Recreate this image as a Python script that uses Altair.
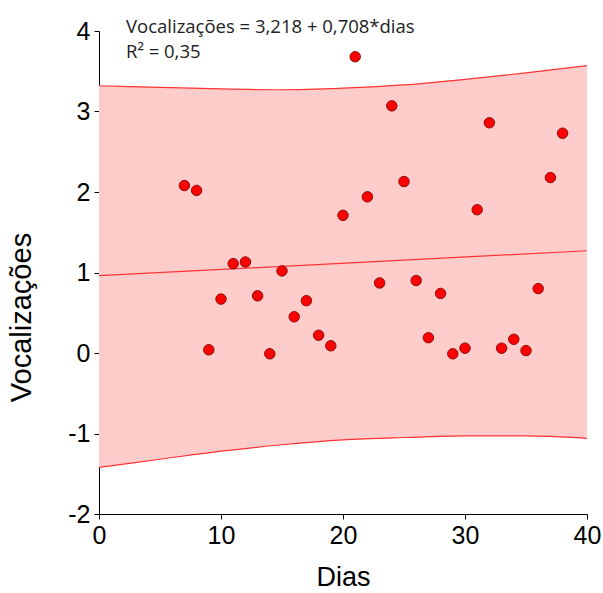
import altair as alt
import pandas as pd

dias = [7, 8, 9, 10, 11, 12, 13, 14, 15, 16, 17, 18, 19, 20, 21, 22, 23, 24, 25, 26,
        27, 28, 29, 30, 31, 32, 33, 34, 35, 36, 37, 38]
vocal = [2.08, 2.02, 0.04, 0.67, 1.11, 1.13, 0.71, -0.01, 1.02, 0.45, 0.65, 0.22, 0.09, 1.71,
         3.68, 1.94, 0.87, 3.07, 2.13, 0.90, 0.19, 0.74, -0.01, 0.06, 1.78, 2.86, 0.06, 0.17,
         0.03, 0.80, 2.18, 2.73]

band_x = [0, 5, 10, 15, 20, 25, 30, 35, 40]
band_upper = [3.32, 3.30, 3.28, 3.27, 3.29, 3.33, 3.40, 3.48, 3.57]
band_lower = [-1.42, -1.32, -1.22, -1.14, -1.08, -1.05, -1.03, -1.03, -1.06]
fit_x = [0, 40]
fit_y = [0.96, 1.27]

eq_text = "Vocalizações = 3,218 + 0,708*dias"
r2_text = "R\u00b2 = 0,35"

pts = pd.DataFrame({"Dias": dias, "Vocalizações": vocal})
band = pd.DataFrame({"Dias": band_x, "up": band_upper, "lo": band_lower})
fit = pd.DataFrame({"Dias": fit_x, "Vocalizações": fit_y})

xs = alt.Scale(domain=[0, 40], nice=False, zero=False)
ys = alt.Scale(domain=[-2, 4], nice=False, zero=False)
xax = alt.Axis(values=[0, 10, 20, 30, 40], title="Dias", grid=False, labelFlush=False,
               labelExpr="'' + datum.value")
yax = alt.Axis(values=[-2, -1, 0, 1, 2, 3, 4], title="Vocalizações", grid=False,
               labelExpr="'' + datum.value", titleY=286, titleFontSize=29, titlePadding=31)

area = alt.Chart(band).mark_area(color="#ffcccc", opacity=1).encode(
    x=alt.X("Dias:Q", scale=xs, axis=xax),
    y=alt.Y("up:Q", scale=ys, axis=yax),
    y2="lo:Q",
)
up_line = alt.Chart(band).mark_line(color="#ff3333", strokeWidth=1.2, interpolate="monotone").encode(
    x=alt.X("Dias:Q", scale=xs), y=alt.Y("up:Q", scale=ys)
)
lo_line = alt.Chart(band).mark_line(color="#ff3333", strokeWidth=1.2, interpolate="monotone").encode(
    x=alt.X("Dias:Q", scale=xs), y=alt.Y("lo:Q", scale=ys)
)
fit_line = alt.Chart(fit).mark_line(color="#ff3333", strokeWidth=1.2).encode(
    x=alt.X("Dias:Q", scale=xs), y=alt.Y("Vocalizações:Q", scale=ys)
)
points = alt.Chart(pts).mark_point(
    filled=True, fill="#ff0000", stroke="#8b1010", strokeWidth=1, size=110, opacity=1, shape="circle"
).encode(
    x=alt.X("Dias:Q", scale=xs), y=alt.Y("Vocalizações:Q", scale=ys)
)
txt1 = alt.Chart(pd.DataFrame({"t": [eq_text]})).mark_text(
    align="left", baseline="middle", font="Open Sans", fontSize=18.5, color="#222222"
).encode(text="t:N", x=alt.value(27), y=alt.value(-4))
txt2 = alt.Chart(pd.DataFrame({"t": [r2_text]})).mark_text(
    align="left", baseline="middle", font="Open Sans", fontSize=18.5, color="#222222"
).encode(text="t:N", x=alt.value(27), y=alt.value(21))

chart = alt.layer(area, up_line, lo_line, fit_line, points, txt1, txt2).properties(
    width=488, height=483,
    autosize=alt.AutoSizeParams(type="none"),
    padding={"left": 99, "top": 31, "right": 16, "bottom": 79},
).configure_view(stroke=None).configure_axis(
    labelFont="Liberation Sans", labelFontSize=25, labelColor="#000000",
    titleFont="Liberation Sans", titleFontSize=27, titleFontWeight="normal", titleColor="#000000",
    domainColor="#000000", tickColor="#000000", tickSize=5, labelPadding=4,
).configure_axisX(titlePadding=16)

chart.save("out.html", embed_options={"renderer": "svg", "actions": False})
